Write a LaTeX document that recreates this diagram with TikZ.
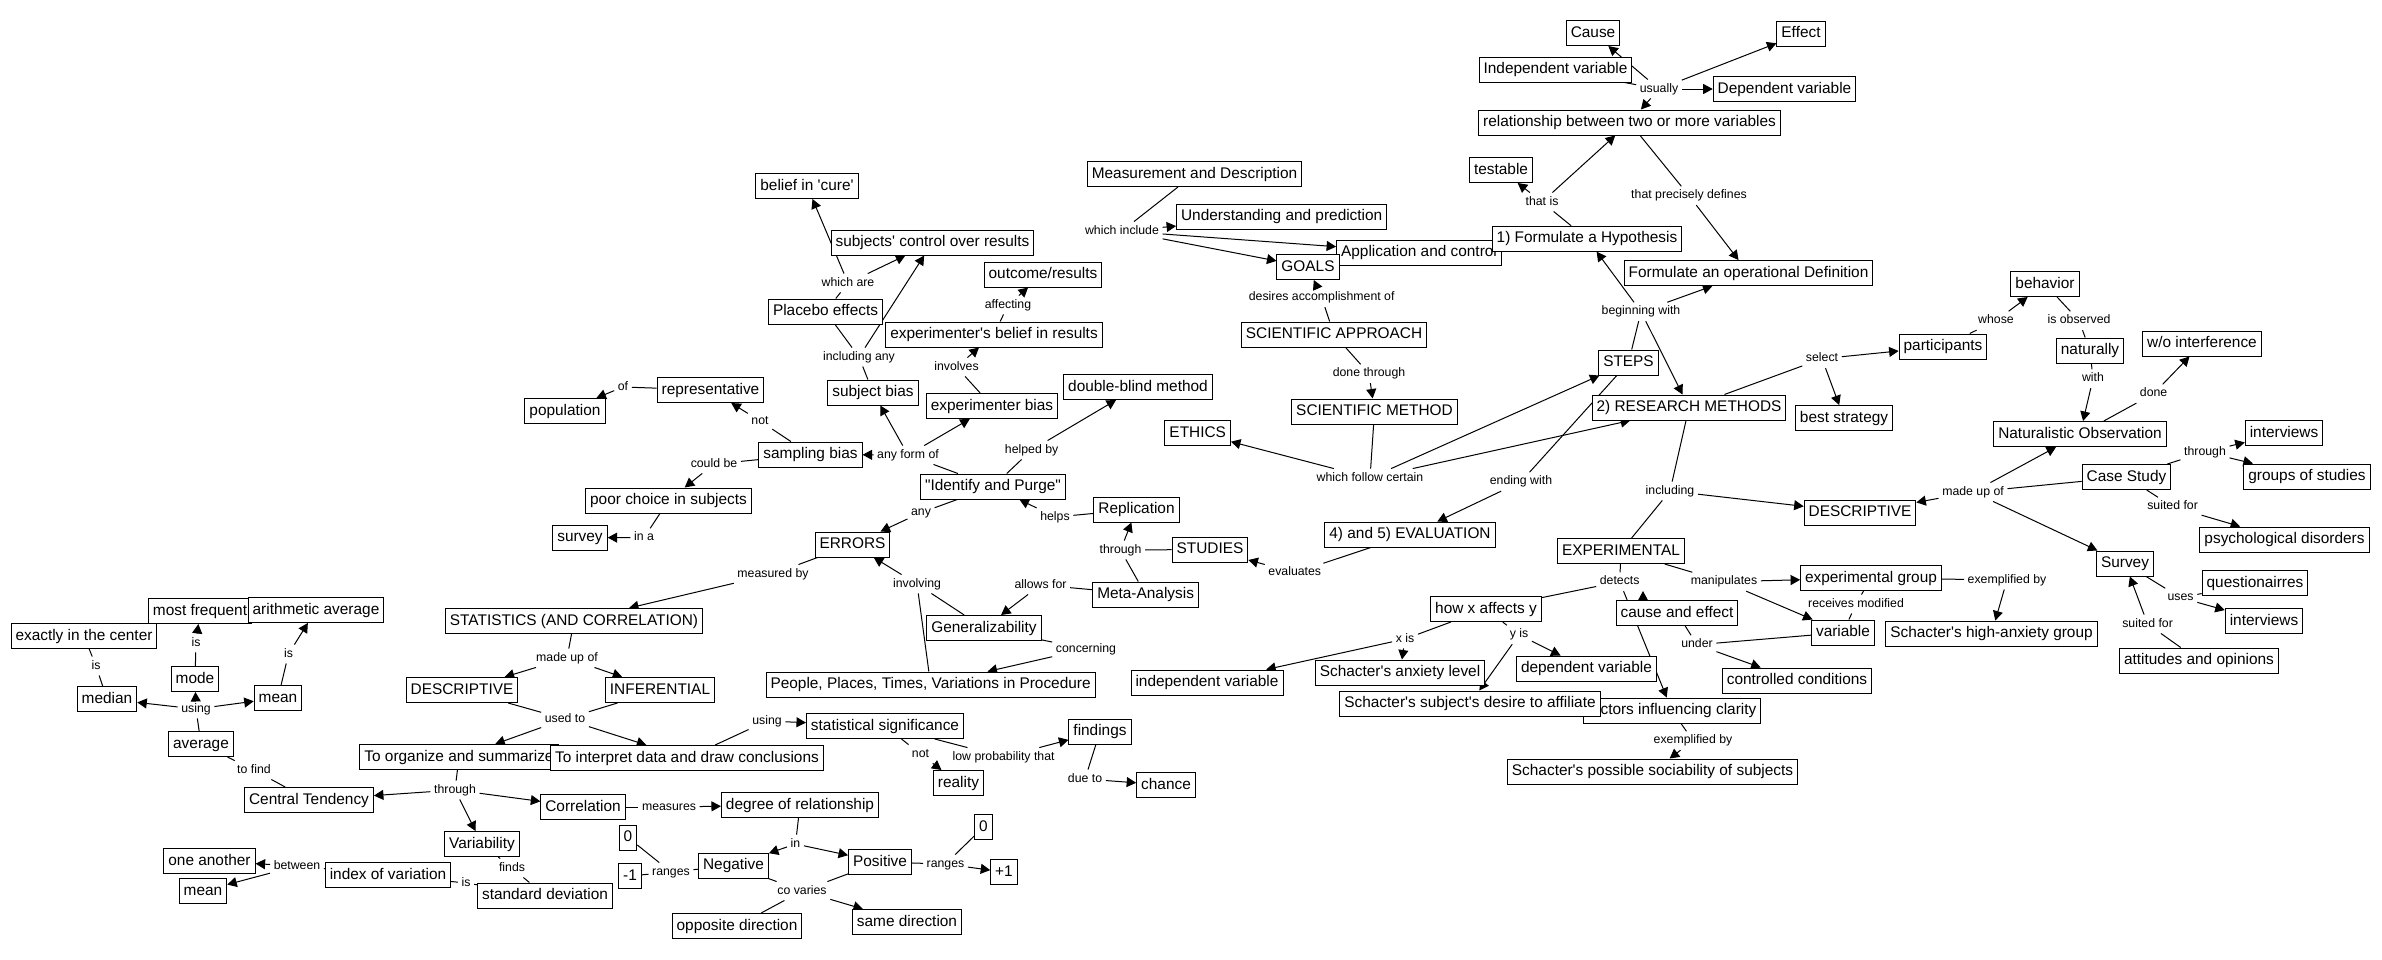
\documentclass[tikz,border=0pt]{standalone}
\usepackage{fontspec}
\setmainfont{Liberation Sans}[Ligatures=TeXOff]
\usetikzlibrary{arrows.meta,backgrounds}
\begin{document}
\begin{tikzpicture}[
   x=1pt,y=-1pt,
   concept/.style={draw,line width=1pt,fill=white,inner xsep=4.5pt,inner ysep=0pt,minimum height=25pt,text height=11.5pt,text depth=3.5pt,font=\fontsize{15.4}{18}\selectfont},
   phrase/.style={inner xsep=3.5pt,inner ysep=3.5pt,text height=9pt,text depth=2.5pt,font=\fontsize{12.3}{14}\selectfont},
   to/.style={-{Triangle[length=9.5pt,width=10pt]},line width=1pt},
   bare/.style={line width=1pt}]
\useasboundingbox (0,0) rectangle (2382,959);
% statistics
\node[concept] (center) at (84,636) {exactly in the center};
\node[concept] (frequent) at (200,611) {most frequent};
\node[concept] (arith) at (316,610) {arithmetic average};
\node[concept] (median) at (107,699) {median};
\node[concept] (mode) at (195,679) {mode};
\node[concept] (mean) at (278,698) {mean};
\node[concept] (average) at (201,744) {average};
\node[concept] (central) at (309,800) {Central Tendency};
\node[concept] (variability) at (482,844) {Variability};
\node[concept] (another) at (209.5,861) {one another};
\node[concept] (meanb) at (203,891) {mean};
\node[concept] (index) at (388,875) {index of variation};
\node[concept] (stddev) at (545,895.5) {standard deviation};
\node[concept] (descstat) at (462,690) {DESCRIPTIVE};
\node[concept] (stats) at (574,621) {STATISTICS (AND CORRELATION)};
\node[concept] (organize) at (459,757) {To organize and summarize};
\node[concept] (inferential) at (660,690) {INFERENTIAL};
\node[concept] (interpret) at (687,758) {To interpret data and draw conclusions};
\node[concept] (signif) at (885,726) {statistical significance};
\node[concept] (reality) at (958.5,783) {reality};
\node[concept] (findings) at (1100,731.5) {findings};
\node[concept] (chance) at (1166,785) {chance};
\node[concept] (correlation) at (583,807) {Correlation};
\node[concept] (degree) at (800,805) {degree of relationship};
\node[concept] (zeroneg) at (628,837.5) {0};
\node[concept] (minusone) at (630,876) {-1};
\node[concept] (negative) at (733.5,865.5) {Negative};
\node[concept] (positive) at (880,862) {Positive};
\node[concept] (zeropos) at (983.5,827) {0};
\node[concept] (plusone) at (1004,872) {+1};
\node[concept] (opposite) at (737,926) {opposite direction};
\node[concept] (same) at (907,922) {same direction};
\node[concept] (general) at (984,628) {Generalizability};
\node[concept] (people) at (930.6,684.5) {People, Places, Times, Variations in Procedure};
% errors
\node[concept] (cure) at (807,186) {belief in 'cure'};
\node[concept] (control) at (932.5,242.5) {subjects' control over results};
\node[concept] (outcome) at (1043,274.5) {outcome/results};
\node[concept] (placebo) at (825.5,311.5) {Placebo effects};
\node[concept] (expbelief) at (994,334.5) {experimenter's belief in results};
\node[concept] (subjbias) at (873,392.5) {subject bias};
\node[concept] (expbias) at (992,406) {experimenter bias};
\node[concept] (doubleblind) at (1138,387) {double-blind method};
\node[concept] (represent) at (710.5,390) {representative};
\node[concept] (population) at (565,411) {population};
\node[concept] (sampling) at (810.5,454.5) {sampling bias};
\node[concept] (poorchoice) at (668.5,500.5) {poor choice in subjects};
\node[concept] (survey) at (580,537.5) {survey};
\node[concept] (purge) at (993,486.5) {"Identify and Purge"};
\node[concept] (errors) at (852.5,544.5) {ERRORS};
\node[concept] (replication) at (1136.5,509.5) {Replication};
\node[concept] (studies) at (1210,549.5) {STUDIES};
\node[concept] (meta) at (1145.6,594.5) {Meta-Analysis};
% scientific method
\node[concept] (cause) at (1593,33) {Cause};
\node[concept] (indep) at (1555.5,69.5) {Independent variable};
\node[concept] (effect) at (1801,33.7) {Effect};
\node[concept] (dep) at (1784.5,89) {Dependent variable};
\node[concept] (relation) at (1629.5,122.5) {relationship between two or more variables};
\node[concept] (testable) at (1501,170) {testable};
\node[concept] (measure) at (1194.5,174) {Measurement and Description};
\node[concept] (understand) at (1281.7,216.5) {Understanding and prediction};
\node[concept] (application) at (1419,252.7) {Application and control};
\node[concept] (goals) at (1308,267) {GOALS};
\node[concept] (hypothesis) at (1587,238.7) {1) Formulate a Hypothesis};
\node[concept] (operational) at (1748.5,273) {Formulate an operational Definition};
\node[concept] (approach) at (1334,334.5) {SCIENTIFIC APPROACH};
\node[concept] (method) at (1374.5,411.5) {SCIENTIFIC METHOD};
\node[concept] (ethics) at (1197.7,433) {ETHICS};
\node[concept] (steps) at (1628.5,362.5) {STEPS};
\node[concept] (research) at (1689,407.5) {2) RESEARCH METHODS};
\node[concept] (evaluation) at (1410,534.5) {4) and 5) EVALUATION};
% research methods
\node[concept] (participants) at (1943,346.5) {participants};
\node[concept] (strategy) at (1844,418) {best strategy};
\node[concept] (behavior) at (2045,284) {behavior};
\node[concept] (naturally) at (2090,350.5) {naturally};
\node[concept] (interference) at (2202,343.5) {w/o interference};
\node[concept] (naturalistic) at (2080,434) {Naturalistic Observation};
\node[concept] (interviewsa) at (2284,433) {interviews};
\node[concept] (casestudy) at (2126.5,477) {Case Study};
\node[concept] (groups) at (2307,476.5) {groups of studies};
\node[concept] (descresearch) at (1860,512.7) {DESCRIPTIVE};
\node[concept] (disorders) at (2284.5,539.5) {psychological disorders};
\node[concept] (surveyb) at (2125,563.5) {Survey};
\node[concept] (question) at (2255,583) {questionairres};
\node[concept] (interviewsb) at (2264,621) {interviews};
\node[concept] (attitudes) at (2199,660.5) {attitudes and opinions};
\node[concept] (expgroup) at (1871,578) {experimental group};
\node[concept] (variable) at (1843,632.5) {variable};
\node[concept] (highanx) at (1991.5,633.5) {Schacter's high-anxiety group};
\node[concept] (controlled) at (1797,680.5) {controlled conditions};
\node[concept] (causeeffect) at (1677,613) {cause and effect};
\node[concept] (experimental) at (1621,551) {EXPERIMENTAL};
\node[concept] (howx) at (1486,609) {how x affects y};
\node[concept] (depb) at (1586.5,668.5) {dependent variable};
\node[concept] (factors) at (1672,710.5) {factors influencing clarity};
\node[concept] (affiliate) at (1470,703.5) {Schacter's subject's desire to affiliate};
\node[concept] (anxiety) at (1400,672.5) {Schacter's anxiety level};
\node[concept] (indepb) at (1207,682.5) {independent variable};
\node[concept] (sociability) at (1652.5,771.5) {Schacter's possible sociability of subjects};
\coordinate (ceTip) at (1643,591);
% linking phrases
\node[phrase] (isMedian) at (96,666) {is};
\node[phrase] (isMode) at (196,643) {is};
\node[phrase] (isMean) at (288.5,654) {is};
\node[phrase] (usingAvg) at (196,709) {using};
\node[phrase] (toFind) at (254,770) {to find};
\node[phrase] (throughOrg) at (455,790) {through};
\node[phrase] (between) at (297,866) {between};
\node[phrase] (isIndex) at (466,883) {is};
\node[phrase] (finds) at (512,868) {finds};
\node[phrase] (madeupStat) at (567,658) {made up of};
\node[phrase] (usedTo) at (565,719) {used to};
\node[phrase] (measuredBy) at (773,574) {measured by};
\node[phrase] (involving) at (917,584) {involving};
\node[phrase] (allowsFor) at (1040.5,585) {allows for};
\node[phrase] (concerning) at (1086,649) {concerning};
\node[phrase] (usingInt) at (767,721) {using};
\node[phrase] (notSig) at (920.5,754) {not};
\node[phrase] (lowProb) at (1003.6,757) {low probability that};
\node[phrase] (dueTo) at (1085,779) {due to};
\node[phrase] (measures) at (669,807) {measures};
\node[phrase] (inDeg) at (795.5,844) {in};
\node[phrase] (rangesNeg) at (671,872) {ranges};
\node[phrase] (rangesPos) at (945.5,864) {ranges};
\node[phrase] (coVaries) at (802,891) {co varies};
\node[phrase] (whichAre) at (848,283) {which are};
\node[phrase] (affecting) at (1008,305) {affecting};
\node[phrase] (includingAny) at (859,357) {including any};
\node[phrase] (involves) at (956.5,367) {involves};
\node[phrase] (ofRep) at (623,387) {of};
\node[phrase] (notSamp) at (760,421) {not};
\node[phrase] (anyForm) at (908,455) {any form of};
\node[phrase] (helpedBy) at (1031.6,450) {helped by};
\node[phrase] (couldBe) at (714,464) {could be};
\node[phrase] (anyErr) at (921,512.7) {any};
\node[phrase] (helps) at (1055,517) {helps};
\node[phrase] (inA) at (644,537.7) {in a};
\node[phrase] (throughSt) at (1120.5,550) {through};
\node[phrase] (evaluates) at (1294.8,572.7) {evaluates};
\node[phrase] (whichInclude) at (1122,231) {which include};
\node[phrase] (desires) at (1321.7,297.7) {desires accomplishment of};
\node[phrase] (doneThrough) at (1369,373.7) {done through};
\node[phrase] (follow) at (1370,478) {which follow certain};
\node[phrase] (endingWith) at (1521,481.7) {ending with};
\node[phrase] (thatIs) at (1542,202) {that is};
\node[phrase] (usually) at (1659,89) {usually};
\node[phrase] (defines) at (1689,195.7) {that precisely defines};
\node[phrase] (beginning) at (1641,311.7) {beginning with};
\node[phrase] (select) at (1822,358.7) {select};
\node[phrase] (whose) at (1996,320.7) {whose};
\node[phrase] (observed) at (2079,320.7) {is observed};
\node[phrase] (withNat) at (2093,378.7) {with};
\node[phrase] (done) at (2153.6,393.7) {done};
\node[phrase] (throughCase) at (2205,452) {through};
\node[phrase] (including) at (1670,491) {including};
\node[phrase] (madeupRes) at (1973,492) {made up of};
\node[phrase] (suitedCase) at (2172.6,506.7) {suited for};
\node[phrase] (uses) at (2180.6,597.7) {uses};
\node[phrase] (suitedSurvey) at (2147.6,624) {suited for};
\node[phrase] (exemplGrp) at (2007,580) {exemplified by};
\node[phrase] (receives) at (1856,604) {receives modified};
\node[phrase] (manipulates) at (1724,581.7) {manipulates};
\node[phrase] (detects) at (1619.7,581.7) {detects};
\node[phrase] (under) at (1697,644.7) {under};
\node[phrase] (xIs) at (1405,639) {x is};
\node[phrase] (yIs) at (1519,634.7) {y is};
\node[phrase] (exemplFac) at (1693,740.7) {exemplified by};
\begin{pgfonlayer}{background}
\fill[white] (0,0) rectangle (2382,959);
% statistics links
\draw[bare] (median) -- (isMedian);
\draw[bare] (isMedian) -- (center);
\draw[bare] (mode) -- (isMode);
\draw[to] (isMode) -- (frequent);
\draw[bare] (mean) -- (isMean);
\draw[to] (isMean) -- (arith);
\draw[bare] (average) -- (usingAvg);
\draw[to] (usingAvg) -- (median);
\draw[to] (usingAvg) -- (mode);
\draw[to] (usingAvg) -- (mean);
\draw[bare] (central) -- (toFind);
\draw[bare] (toFind) -- (average);
\draw[bare] (organize) -- (throughOrg);
\draw[to] (throughOrg) -- (central);
\draw[to] (throughOrg) -- (variability);
\draw[to] (throughOrg) -- (correlation);
\draw[bare] (variability) -- (finds);
\draw[bare] (finds) -- (stddev);
\draw[bare] (index) -- (isIndex);
\draw[bare] (isIndex) -- (stddev);
\draw[bare] (index) -- (between);
\draw[to] (between) -- (another);
\draw[to] (between) -- (meanb);
\draw[bare] (stats) -- (madeupStat);
\draw[to] (madeupStat) -- (descstat);
\draw[to] (madeupStat) -- (inferential);
\draw[bare] (descstat) -- (usedTo);
\draw[bare] (inferential) -- (usedTo);
\draw[to] (usedTo) -- (organize);
\draw[to] (usedTo) -- (interpret);
\draw[bare] (errors) -- (measuredBy);
\draw[to] (measuredBy) -- (stats);
\draw[bare] (interpret) -- (usingInt);
\draw[to] (usingInt) -- (signif);
\draw[bare] (signif) -- (notSig);
\draw[to] (notSig) -- (reality);
\draw[bare] (signif) -- (lowProb);
\draw[to] (lowProb) -- (findings);
\draw[bare] (findings) -- (dueTo);
\draw[to] (dueTo) -- (chance);
\draw[bare] (correlation) -- (measures);
\draw[to] (measures) -- (degree);
\draw[bare] (degree) -- (inDeg);
\draw[to] (inDeg) -- (negative);
\draw[to] (inDeg) -- (positive);
\draw[bare] (negative) -- (rangesNeg);
\draw[bare] (rangesNeg) -- (zeroneg);
\draw[bare] (rangesNeg) -- (minusone);
\draw[bare] (positive) -- (rangesPos);
\draw[bare] (rangesPos) -- (zeropos);
\draw[to] (rangesPos) -- (plusone);
\draw[bare] (negative) -- (coVaries);
\draw[bare] (positive) -- (coVaries);
\draw[bare] (coVaries) -- (opposite);
\draw[to] (coVaries) -- (same);
\draw[bare] (general) -- (concerning);
\draw[to] (concerning) -- (people);
\draw[bare] (people) -- (involving);
\draw[bare] (general) -- (involving);
\draw[to] (involving) -- (errors);
\draw[bare] (meta) -- (allowsFor);
\draw[to] (allowsFor) -- (general);
% errors links
\draw[bare] (studies) -- (throughSt);
\draw[to] (throughSt) -- (replication);
\draw[bare] (throughSt) -- (meta);
\draw[bare] (replication) -- (helps);
\draw[to] (helps) -- (purge);
\draw[bare] (purge) -- (helpedBy);
\draw[to] (helpedBy) -- (doubleblind);
\draw[bare] (purge) -- (anyErr);
\draw[to] (anyErr) -- (errors);
\draw[bare] (purge) -- (anyForm);
\draw[to] (anyForm) -- (sampling);
\draw[to] (anyForm) -- (subjbias);
\draw[to] (anyForm) -- (expbias);
\draw[bare] (sampling) -- (notSamp);
\draw[to] (notSamp) -- (represent);
\draw[bare] (represent) -- (ofRep);
\draw[to] (ofRep) -- (population);
\draw[bare] (sampling) -- (couldBe);
\draw[to] (couldBe) -- (poorchoice);
\draw[bare] (poorchoice) -- (inA);
\draw[to] (inA) -- (survey);
\draw[bare] (subjbias) -- (includingAny);
\draw[bare] (includingAny) -- (placebo);
\draw[to] (includingAny) -- (control);
\draw[bare] (placebo) -- (whichAre);
\draw[to] (whichAre) -- (cure);
\draw[to] (whichAre) -- (control);
\draw[bare] (expbias) -- (involves);
\draw[to] (involves) -- (expbelief);
\draw[bare] (expbelief) -- (affecting);
\draw[to] (affecting) -- (outcome);
% scientific method links
\draw[bare] (approach) -- (desires);
\draw[to] (desires) -- (goals);
\draw[bare] (measure) -- (whichInclude);
\draw[to] (whichInclude) -- (understand);
\draw[to] (whichInclude) -- (application);
\draw[to] (whichInclude) -- (goals);
\draw[bare] (approach) -- (doneThrough);
\draw[to] (doneThrough) -- (method);
\draw[bare] (method) -- (follow);
\draw[to] (follow) -- (ethics);
\draw[to] (follow) -- (steps);
\draw[to] (follow) -- (research);
\draw[bare] (steps) -- (beginning);
\draw[to] (beginning) -- (hypothesis);
\draw[to] (beginning) -- (operational);
\draw[to] (beginning) -- (research);
\draw[bare] (steps) -- (endingWith);
\draw[to] (endingWith) -- (evaluation);
\draw[bare] (evaluation) -- (evaluates);
\draw[to] (evaluates) -- (studies);
\draw[bare] (hypothesis) -- (thatIs);
\draw[to] (thatIs) -- (testable);
\draw[to] (thatIs) -- (relation);
\draw[bare] (relation) -- (defines);
\draw[to] (defines) -- (operational);
\draw[bare] (indep) -- (usually);
\draw[to] (usually) -- (cause);
\draw[to] (usually) -- (effect);
\draw[to] (usually) -- (dep);
\draw[to] (usually) -- (relation);
% research methods links
\draw[bare] (research) -- (select);
\draw[to] (select) -- (participants);
\draw[to] (select) -- (strategy);
\draw[bare] (participants) -- (whose);
\draw[to] (whose) -- (behavior);
\draw[bare] (behavior) -- (observed);
\draw[bare] (observed) -- (naturally);
\draw[bare] (naturally) -- (withNat);
\draw[to] (withNat) -- (naturalistic);
\draw[bare] (naturalistic) -- (done);
\draw[to] (done) -- (interference);
\draw[bare] (casestudy) -- (throughCase);
\draw[to] (throughCase) -- (interviewsa);
\draw[to] (throughCase) -- (groups);
\draw[bare] (casestudy) -- (suitedCase);
\draw[to] (suitedCase) -- (disorders);
\draw[bare] (research) -- (including);
\draw[to] (including) -- (descresearch);
\draw[bare] (including) -- (experimental);
\draw[bare] (casestudy) -- (madeupRes);
\draw[to] (madeupRes) -- (descresearch);
\draw[to] (madeupRes) -- (naturalistic);
\draw[to] (madeupRes) -- (surveyb);
\draw[bare] (surveyb) -- (uses);
\draw[bare] (uses) -- (question);
\draw[to] (uses) -- (interviewsb);
\draw[bare] (attitudes) -- (suitedSurvey);
\draw[to] (suitedSurvey) -- (surveyb);
\draw[bare] (experimental) -- (detects);
\draw[bare] (detects) -- (howx);
\draw[to] (detects) -- (factors);
\draw[to] (causeeffect.north -| ceTip) -- (ceTip);
\draw[bare] (experimental) -- (manipulates);
\draw[to] (manipulates) -- (expgroup);
\draw[to] (manipulates) -- (variable);
\draw[bare] (expgroup) -- (receives);
\draw[bare] (receives) -- (variable);
\draw[bare] (expgroup) -- (exemplGrp);
\draw[to] (exemplGrp) -- (highanx);
\draw[bare] (causeeffect) -- (under);
\draw[bare] (variable) -- (under);
\draw[to] (under) -- (controlled);
\draw[bare] (howx) -- (xIs);
\draw[to] (xIs) -- (indepb);
\draw[to] (xIs) -- (anxiety);
\draw[bare] (howx) -- (yIs);
\draw[to] (yIs) -- (depb);
\draw[to] (yIs) -- (affiliate);
\draw[bare] (factors) -- (exemplFac);
\draw[to] (exemplFac) -- (sociability);
\end{pgfonlayer}
\end{tikzpicture}
\end{document}
